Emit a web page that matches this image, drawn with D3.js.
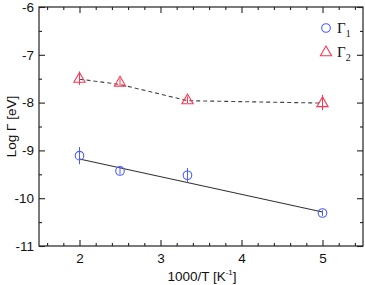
<!DOCTYPE html>
<html><head><meta charset="utf-8">
<script src="https://cdn.jsdelivr.net/npm/d3@7"></script>
<style>body{margin:0;background:#fff}svg{display:block}text{font-family:"Liberation Sans",Arial,sans-serif}</style>
</head><body><svg id="c" width="365" height="285"></svg>
<script>
const xVals = [2, 2.5, 3.333, 5];
const g1 = [-9.11, -9.43, -9.52, -10.31];
const g1err = [0.18, 0.07, 0.15, 0.06];
const g1fitX = [2, 5];
const g1fit = [-9.18, -10.29];
const g2 = [-7.49, -7.57, -7.94, -8.0];
const g2err = [0.14, 0.07, 0.07, 0.16];
const g2line = [-7.51, -7.62, -7.96, -8.01];
const xTicks = [2, 3, 4, 5];
const yTicks = [-11, -10, -9, -8, -7, -6];

const svg = d3.select("#c");
const L = 39, R = 363, T = 7, B = 246;
const x = d3.scaleLinear().domain([1.5, 5.5]).range([L, R]);
const y = d3.scaleLinear().domain([-11, -6]).range([B, T]);
const blue = "#4a5cff", red = "#ff3552";

svg.append("rect").attr("x", L).attr("y", T).attr("width", R - L).attr("height", B - T)
  .attr("fill", "none").attr("stroke", "#222").attr("stroke-width", 1.2);

const xMinor = d3.range(1.6, 5.45, 0.2).filter(v => Math.abs(v - Math.round(v)) > 0.01);
const yMinor = d3.range(-10.5, -6, 1);
const fmt = v => String(v);
function ax(gen, tr, ticks, size, labels) {
  const a = svg.append("g").attr("transform", tr)
    .call(gen.tickValues(ticks).tickSize(size).tickSizeOuter(0).tickFormat(labels ? fmt : ""));
  a.select(".domain").remove();
  a.selectAll("line").attr("stroke", "#222").attr("stroke-width", 1.1);
  a.selectAll("text").attr("font-size", 13.5).attr("fill", "#111");
  return a;
}
let a = ax(d3.axisBottom(x), `translate(0,${B})`, xTicks, -6, true);
a.selectAll("text").attr("y", 7).attr("dy", "0.71em");
ax(d3.axisBottom(x), `translate(0,${B})`, xMinor, -3, false);
ax(d3.axisTop(x), `translate(0,${T})`, xTicks, -6, false);
ax(d3.axisTop(x), `translate(0,${T})`, xMinor, -3, false);
a = ax(d3.axisLeft(y), `translate(${L},0)`, yTicks, -6, true);
a.selectAll("text").attr("x", -5);
ax(d3.axisLeft(y), `translate(${L},0)`, yMinor, -3, false);
ax(d3.axisRight(y), `translate(${R},0)`, yTicks, -6, false);
ax(d3.axisRight(y), `translate(${R},0)`, yMinor, -3, false);

svg.append("path").datum(g1fitX.map((v, i) => [v, g1fit[i]]))
  .attr("d", d3.line().x(d => x(d[0])).y(d => y(d[1])))
  .attr("fill", "none").attr("stroke", "#333").attr("stroke-width", 1.1);
svg.append("path").datum(xVals.map((v, i) => [v, g2line[i]]))
  .attr("d", d3.line().x(d => x(d[0])).y(d => y(d[1])))
  .attr("fill", "none").attr("stroke", "#444").attr("stroke-width", 1.1).attr("stroke-dasharray", "4,3");

function errs(vals, e, col) {
  svg.append("g").selectAll("line").data(vals).join("line")
    .attr("x1", (d, i) => x(xVals[i])).attr("x2", (d, i) => x(xVals[i]))
    .attr("y1", (d, i) => y(d + e[i])).attr("y2", (d, i) => y(d - e[i]))
    .attr("stroke", col).attr("stroke-width", 1);
}
errs(g1, g1err, blue);
errs(g2, g2err, red);

svg.append("g").selectAll("circle").data(g1).join("circle")
  .attr("cx", (d, i) => x(xVals[i])).attr("cy", d => y(d)).attr("r", 4.3)
  .attr("fill", "none").attr("stroke", blue).attr("stroke-width", 1.1);
const tri = d3.symbol().type(d3.symbolTriangle).size(55);
svg.append("g").selectAll("path").data(g2).join("path")
  .attr("transform", (d, i) => `translate(${x(xVals[i])},${y(d) + 0.8})`).attr("d", tri)
  .attr("fill", "none").attr("stroke", red).attr("stroke-width", 1.1);

svg.append("circle").attr("cx", 326).attr("cy", 28).attr("r", 4.3)
  .attr("fill", "none").attr("stroke", blue).attr("stroke-width", 1.1);
svg.append("path").attr("transform", "translate(326,52.5)").attr("d", tri)
  .attr("fill", "none").attr("stroke", red).attr("stroke-width", 1.1);
[["1", 33], ["2", 57]].forEach(([s, yy]) => {
  const t = svg.append("text").attr("x", 337).attr("y", yy).attr("font-size", 15)
    .style("font-family", "'Liberation Serif','Times New Roman',serif").attr("fill", "#111");
  t.append("tspan").text("Γ");
  t.append("tspan").attr("font-size", 10).attr("dy", 4).text(s);
});

svg.append("text").attr("transform", `translate(16,${(T + B) / 2}) rotate(-90)`)
  .attr("text-anchor", "middle").attr("font-size", 13.5).attr("fill", "#111").text("Log Γ  [eV]");
const xl = svg.append("text").attr("x", (L + R) / 2 + 1).attr("y", 281).attr("text-anchor", "middle")
  .attr("font-size", 13.5).attr("fill", "#111");
xl.append("tspan").text("1000/T [K");
xl.append("tspan").attr("font-size", 8).attr("dy", -6).text("-1");
xl.append("tspan").attr("dy", 6).text("]");
</script></body></html>
